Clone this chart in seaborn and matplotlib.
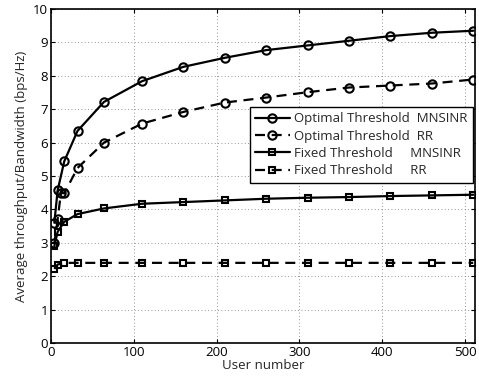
import matplotlib
matplotlib.use("Agg")
import matplotlib.pyplot as plt
import seaborn as sns

# user counts (x) for each curve
users = [4, 8, 16, 32, 64, 110, 160, 210, 260, 310, 360, 410, 460, 510]
users_opt_rr = [4, 8, 12, 16, 32, 64, 110, 160, 210, 260, 310, 360, 410, 460, 510]

opt_mnsinr = [3.6, 4.57, 5.44, 6.35, 7.22, 7.84, 8.27, 8.54, 8.77, 8.91, 9.05, 9.19, 9.29, 9.35]
opt_rr = [2.98, 3.7, 4.5, 4.48, 5.24, 6.0, 6.57, 6.92, 7.2, 7.35, 7.51, 7.65, 7.71, 7.77, 7.89]
fix_mnsinr = [2.9, 3.33, 3.63, 3.86, 4.03, 4.17, 4.22, 4.27, 4.32, 4.35, 4.37, 4.40, 4.42, 4.44]
fix_rr = [2.22, 2.35, 2.4, 2.4, 2.4, 2.4, 2.4, 2.4, 2.4, 2.4, 2.4, 2.4, 2.4, 2.4]

labels = ["Optimal Threshold  MNSINR", "Optimal Threshold  RR",
          "Fixed Threshold     MNSINR", "Fixed Threshold     RR"]

sns.set_style("ticks")
plt.rcParams["font.family"] = ["Open Sans", "DejaVu Sans"]
plt.rcParams["font.size"] = 9.5

fig = plt.figure(figsize=(4.79, 3.81), dpi=100)
ax = fig.add_axes([0.1065, 0.0997, 0.885, 0.8766])

common = dict(ax=ax, color="k", linewidth=1.6, markersize=6,
              markerfacecolor="none", markeredgecolor="k", markeredgewidth=1.5)
dash = (0, (4.5, 3))

sns.lineplot(x=users, y=opt_mnsinr, marker="o", linestyle="-", **common)
sns.lineplot(x=users_opt_rr, y=opt_rr, marker="o", linestyle=dash, **common)
sns.lineplot(x=users, y=fix_mnsinr, marker="s", linestyle="-", **dict(common, markersize=5))
sns.lineplot(x=users, y=fix_rr, marker="s", linestyle=dash, **dict(common, markersize=5))

for line, lab in zip(ax.get_lines(), labels):
    line.set_label(lab)

ax.set_xlim(0, 512)
ax.set_ylim(0, 10)
ax.set_xticks(range(0, 501, 100))
ax.set_yticks(range(0, 11))
ax.grid(True, linestyle=(0, (1, 3)), color="0.45", linewidth=0.6)
ax.tick_params(direction="in", top=True, right=True, length=3, colors="k", pad=2)
for s in ax.spines.values():
    s.set_visible(True)
    s.set_linewidth(1.2)
    s.set_color("k")

ax.set_xlabel("User number", labelpad=0)
ax.set_ylabel("Average throughput/Bandwidth (bps/Hz)", labelpad=4)

leg = ax.legend(handles=ax.get_lines()[:4], loc="upper right", bbox_to_anchor=(0.995, 0.707),
                borderaxespad=0, fancybox=False, framealpha=1, edgecolor="k",
                handlelength=2.6, labelspacing=0.33, borderpad=0.4, handletextpad=0.35)
leg.get_frame().set_linewidth(1.0)

fig.savefig("out.png", dpi=100)
